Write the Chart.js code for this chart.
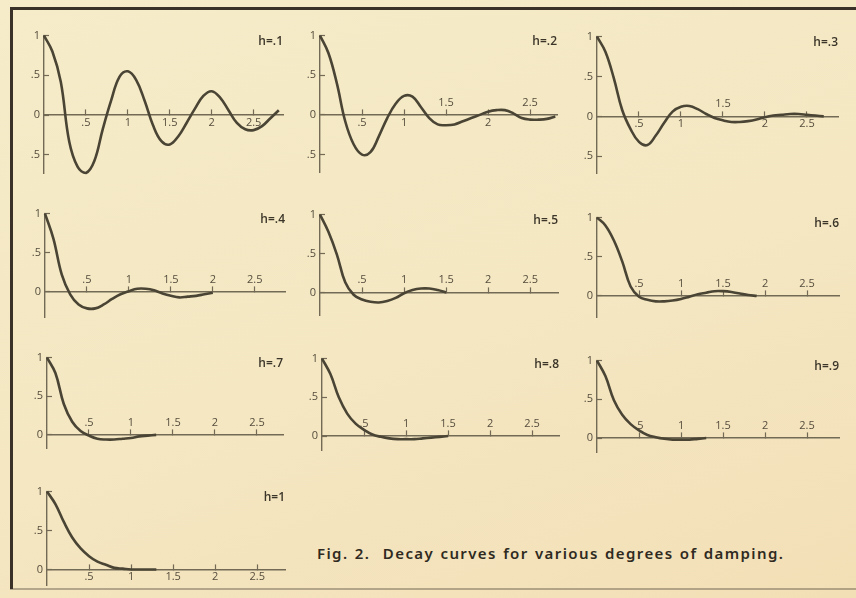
<!DOCTYPE html>
<html>
<head>
<meta charset="utf-8">
<script src="https://cdn.jsdelivr.net/npm/chart.js@4.4.1/dist/chart.umd.min.js"></script>
<style>
    html, body {
        margin: 0;
        padding: 0;
    }
    body {
        width: 856px;
        height: 598px;
        position: relative;
        overflow: hidden;
        background: linear-gradient(160deg, #f6ecc9 0%, #f4e7c2 55%, #f3dfb6 100%);
    }
    canvas {
        position: absolute;
    }
    .rule {
        position: absolute;
        background: #3a3229;
    }
    #caption {
        position: absolute;
        left: 317px;
        top: 543px;
        font-family: "Noto Sans", sans-serif;
        font-size: 15px;
        font-weight: 600;
        letter-spacing: 1.4px;
        word-spacing: 1px;
        color: #2f2a21;
        white-space: pre;
    }
</style>
</head>
<body>
<div class="rule" style="left:10px; top:7px; width:846px; height:3px;"></div>
<div class="rule" style="left:10px; top:7px; width:3px; height:582px;"></div>
<div class="rule" style="left:10px; top:588px; width:846px; height:2px; opacity:0.35;"></div>
<div id="caption">Fig. 2.  Decay curves for various degrees of damping.</div>

<script>
// time axis shared by all curves (one period of the undamped motion = 1)
const tValues = [0, 0.1, 0.2, 0.3, 0.4, 0.5, 0.6, 0.7, 0.8, 0.9, 1.0, 1.1, 1.2, 1.3, 1.4,
    1.5, 1.6, 1.7, 1.8, 1.9, 2.0, 2.1, 2.2, 2.3, 2.4, 2.5, 2.6, 2.7, 2.8];

const dampingLabels = ['h=.1', 'h=.2', 'h=.3', 'h=.4', 'h=.5', 'h=.6', 'h=.7', 'h=.8', 'h=.9', 'h=1'];

// displacement readings for each damping ratio
const curveH01 = [1, 0.8, 0.42, -0.33, -0.65, -0.73, -0.58, -0.18, 0.18, 0.48, 0.55, 0.44, 0.18, -0.13, -0.33,
    -0.37, -0.27, -0.1, 0.08, 0.24, 0.3, 0.22, 0.06, -0.1, -0.18, -0.19, -0.14, -0.04, 0.06];
const curveH02 = [1, 0.78, 0.4, -0.08, -0.37, -0.5, -0.47, -0.27, -0.04, 0.14, 0.24, 0.23, 0.1, -0.04, -0.12,
    -0.13, -0.12, -0.08, -0.04, 0.0, 0.04, 0.06, 0.06, 0.02, -0.04, -0.06, -0.06, -0.05, -0.02];
const curveH03 = [1, 0.81, 0.48, 0.08, -0.16, -0.32, -0.36, -0.24, -0.08, 0.06, 0.12, 0.13, 0.09, 0.03, -0.02,
    -0.05, -0.07, -0.07, -0.06, -0.04, -0.01, 0.01, 0.02, 0.03, 0.03, 0.02, 0.01, 0.0];
const curveH04 = [1, 0.68, 0.22, -0.03, -0.16, -0.21, -0.21, -0.16, -0.09, -0.03, 0.01, 0.04, 0.04, 0.02, -0.02,
    -0.05, -0.07, -0.06, -0.05, -0.03, -0.01];
const curveH05 = [1, 0.78, 0.49, 0.13, -0.03, -0.09, -0.12, -0.13, -0.11, -0.07, -0.01, 0.03, 0.05, 0.05, 0.03, 0.0];
const curveH06 = [1, 0.9, 0.71, 0.44, 0.12, -0.01, -0.05, -0.07, -0.07, -0.06, -0.04, -0.01, 0.02, 0.04, 0.06,
    0.06, 0.05, 0.03, 0.01, 0.0];
const curveH07 = [1, 0.8, 0.4, 0.17, 0.05, -0.01, -0.05, -0.06, -0.06, -0.05, -0.04, -0.02, -0.01, 0.0];
const curveH08 = [1, 0.8, 0.5, 0.29, 0.16, 0.08, 0.02, -0.01, -0.03, -0.04, -0.04, -0.04, -0.03, -0.02, -0.01, 0.0];
const curveH09 = [1, 0.8, 0.49, 0.3, 0.18, 0.1, 0.04, 0.01, -0.01, -0.02, -0.02, -0.02, -0.01, 0.0];
const curveH10 = [1, 0.84, 0.61, 0.41, 0.27, 0.17, 0.1, 0.06, 0.02, 0.01, 0, 0, 0, 0];

const curves = [curveH01, curveH02, curveH03, curveH04, curveH05, curveH06, curveH07, curveH08, curveH09, curveH10];

// tick values
const xTickValues = [0.5, 1, 1.5, 2, 2.5];
const yTicksDeep = [1, 0.5, 0, -0.5];
const yTicksShallow = [1, 0.5, 0];
const all = xTickValues;
// which x tick labels sit above the axis line in each panel
const xLabelsAbove = [[], [1.5, 2.5], [1.5], all, all, all, all, all, all, []];

// where each panel's origin sits on the page, and how far its axes run
const UNIT = 84;
const panelLayout = [
    { ox: 44, oy: 112, yMin: -0.73, xMax: 2.85 },
    { ox: 320, oy: 112, yMin: -0.72, xMax: 2.82 },
    { ox: 597, oy: 113, yMin: -0.71, xMax: 2.87 },
    { ox: 45, oy: 290, yMin: -0.32, xMax: 2.86 },
    { ox: 320, oy: 291, yMin: -0.29, xMax: 2.83 },
    { ox: 597, oy: 294, yMin: -0.27, xMax: 2.88 },
    { ox: 47, oy: 434, yMin: -0.17, xMax: 2.81 },
    { ox: 322, oy: 435, yMin: -0.18, xMax: 2.82 },
    { ox: 597, oy: 437, yMin: -0.18, xMax: 2.88 },
    { ox: 47, oy: 568, yMin: -0.2, xMax: 2.83 },
];

const PAD = { left: 26, top: 8, right: 10, bottom: 22 };
const INK = '#4a4435';
const AXIS = '#736a56';
const TICK_TEXT = '#554d3d';
const tickFont = { family: '"Open Sans", sans-serif', size: 11 };

// ".5" style labels, no sign on the negative side
function fmt(v) {
    if (v === 0) return '0';
    return String(Math.abs(v)).replace(/^0\./, '.');
}

const panelLabel = {
    id: 'panelLabel',
    afterDraw(chart, args, opts) {
        const { ctx, chartArea } = chart;
        ctx.save();
        ctx.font = '600 12px "Open Sans", sans-serif';
        ctx.fillStyle = '#3b3529';
        ctx.textAlign = 'right';
        ctx.textBaseline = 'middle';
        ctx.fillText(opts.text, chartArea.right, chartArea.top + 6);
        ctx.restore();
    },
};

function buildPanel(i) {
    const { ox, oy, yMin, xMax } = panelLayout[i];
    const series = curves[i];
    const above = xLabelsAbove[i];
    const yTicks = yMin < -0.5 ? yTicksDeep : yTicksShallow;

    const canvas = document.createElement('canvas');
    const w = PAD.left + Math.round(xMax * UNIT) + PAD.right;
    const h = PAD.top + Math.round((1 - yMin) * UNIT) + PAD.bottom;
    canvas.width = w;
    canvas.height = h;
    canvas.style.left = ox - PAD.left + 'px';
    canvas.style.top = oy - UNIT - PAD.top + 'px';
    document.body.appendChild(canvas);

    const setXTicks = (scale) => {
        scale.ticks = xTickValues.map((v) => ({ value: v }));
    };

    new Chart(canvas.getContext('2d'), {
        type: 'line',
        data: {
            datasets: [
                {
                    data: series.map((y, k) => ({ x: tValues[k], y: y })),
                    borderColor: INK,
                    borderWidth: 2.6,
                    pointRadius: 0,
                    tension: 0.4,
                    fill: false,
                    clip: false,
                },
            ],
        },
        options: {
            responsive: false,
            animation: false,
            devicePixelRatio: 1,
            layout: {
                padding: { left: 0, top: PAD.top, right: PAD.right, bottom: PAD.bottom },
            },
            plugins: {
                legend: { display: false },
                tooltip: { enabled: false },
                panelLabel: { text: dampingLabels[i] },
            },
            scales: {
                y: {
                    type: 'linear',
                    position: 'left',
                    min: yMin,
                    max: 1,
                    afterFit: (s) => {
                        s.width = PAD.left;
                    },
                    afterBuildTicks: (s) => {
                        s.ticks = yTicks.map((v) => ({ value: v }));
                    },
                    border: { display: true, color: AXIS, width: 1.4 },
                    grid: {
                        drawOnChartArea: false,
                        tickLength: -5,
                        tickColor: AXIS,
                        tickWidth: 1.2,
                    },
                    ticks: {
                        padding: 9,
                        color: TICK_TEXT,
                        font: tickFont,
                        callback: (v) => fmt(v),
                    },
                },
                x: {
                    type: 'linear',
                    position: { y: 0 },
                    min: 0,
                    max: xMax,
                    afterFit: (s) => {
                        s.height = 0;
                    },
                    afterBuildTicks: setXTicks,
                    border: { display: true, color: AXIS, width: 1.4 },
                    grid: {
                        drawOnChartArea: false,
                        tickLength: -6,
                        tickColor: AXIS,
                        tickWidth: 1.2,
                    },
                    ticks: {
                        autoSkip: false,
                        maxRotation: 0,
                        padding: 7,
                        color: TICK_TEXT,
                        font: tickFont,
                        callback: (v) => (above.includes(v) ? '' : fmt(v)),
                    },
                },
                x2: {
                    type: 'linear',
                    axis: 'x',
                    position: { y: 0 },
                    min: 0,
                    max: xMax,
                    afterFit: (s) => {
                        s.height = 0;
                    },
                    afterBuildTicks: setXTicks,
                    border: { display: false },
                    grid: { display: false, drawTicks: false },
                    ticks: {
                        autoSkip: false,
                        maxRotation: 0,
                        padding: -19,
                        color: TICK_TEXT,
                        font: tickFont,
                        callback: (v) => (above.includes(v) ? fmt(v) : ''),
                    },
                },
            },
        },
        plugins: [panelLabel],
    });
}

curves.forEach((c, i) => buildPanel(i));
</script>
</body>
</html>
